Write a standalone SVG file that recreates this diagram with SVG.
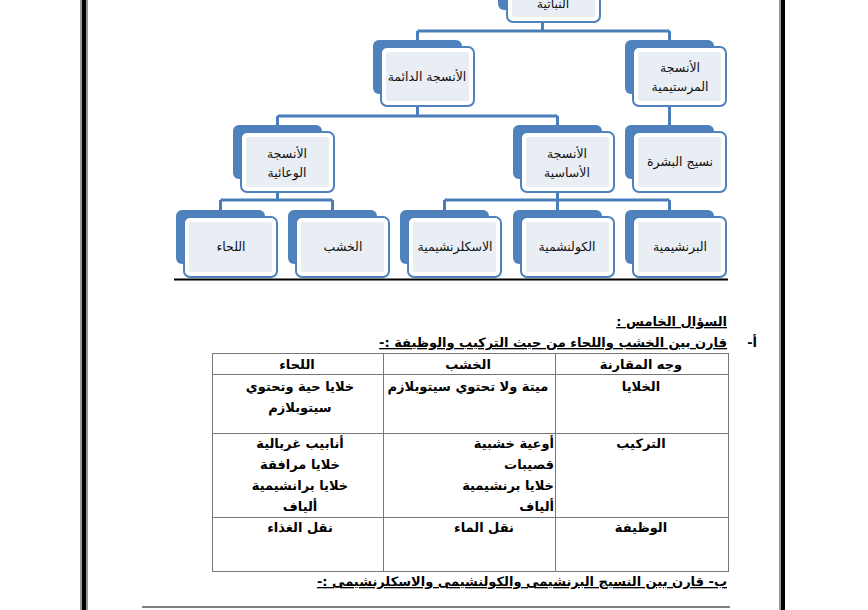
<svg xmlns="http://www.w3.org/2000/svg" width="868" height="610" viewBox="0 0 868 610">
<style>
.sh{fill:#4F81BD}
.fr{fill:#ffffff;stroke:#4F81BD;stroke-width:2}
.in{fill:#E9EEF5}
.bt{font-family:"DejaVu Sans",sans-serif;font-size:12.5px;fill:#111;text-anchor:middle}
.cn{fill:none;stroke:#4A7EBB;stroke-width:3}
.tb{font-family:"DejaVu Sans",sans-serif;font-size:13px;font-weight:bold;fill:#000}
.c{text-anchor:middle}
.r{direction:rtl;text-anchor:start}
.gl{stroke:#777;stroke-width:1;fill:none}
</style>
<rect width="868" height="610" fill="#ffffff"/>
<rect x="80" y="0" width="8" height="610" fill="#999"/>
<rect x="82" y="0" width="4" height="610" fill="#000"/>
<rect x="779" y="0" width="2" height="610" fill="#999"/>
<rect x="781" y="0" width="4" height="610" fill="#000"/>

<g id="connectors">
<path class="cn" d="M542.5 22V31M417.5 31H669.5M417.5 31V40M669.5 31V40"/>
<path class="cn" d="M417.5 106V116M277.5 116H557.5M277.5 116V125M557.5 116V125"/>
<path class="cn" d="M669.5 106V125"/>
<path class="cn" d="M277.5 192V200M220.5 200H332.5M220.5 200V210M332.5 200V210"/>
<path class="cn" d="M557.5 192V200M444.5 200H669.5M444.5 200V210M669.5 200V210M557.5 200V210"/>
</g>

<g id="n-top">
<rect class="sh" x="498" y="-44" width="89" height="54" rx="6"/>
<rect class="fr" x="507" y="-37" width="93" height="59" rx="6"/>
<rect class="in" x="512" y="-32" width="83" height="49" rx="2"/>
<text class="bt" x="553" y="8">النباتية</text>
</g>
<g id="n-permanent">
<rect class="sh" x="373" y="40" width="89" height="54" rx="6"/>
<rect class="fr" x="381" y="47" width="93" height="59" rx="6"/>
<rect class="in" x="386" y="52" width="83" height="49" rx="2"/>
<text class="bt" x="427" y="81">الأنسجة الدائمة</text>
</g>
<g id="n-meristem">
<rect class="sh" x="625" y="40" width="89" height="54" rx="6"/>
<rect class="fr" x="633" y="47" width="93" height="59" rx="6"/>
<rect class="in" x="638" y="52" width="83" height="49" rx="2"/>
<text class="bt" x="680" y="72">الأنسجة</text>
<text class="bt" x="680" y="91">المرستيمية</text>
</g>
<g id="n-vascular">
<rect class="sh" x="233" y="125" width="89" height="54" rx="6"/>
<rect class="fr" x="241" y="132" width="93" height="60" rx="6"/>
<rect class="in" x="246" y="137" width="83" height="50" rx="2"/>
<text class="bt" x="287" y="158">الأنسجة</text>
<text class="bt" x="287" y="177">الوعائية</text>
</g>
<g id="n-ground">
<rect class="sh" x="513" y="125" width="89" height="54" rx="6"/>
<rect class="fr" x="521" y="132" width="93" height="60" rx="6"/>
<rect class="in" x="526" y="137" width="83" height="50" rx="2"/>
<text class="bt" x="567" y="158">الأنسجة</text>
<text class="bt" x="567" y="177">الأساسية</text>
</g>
<g id="n-epidermis">
<rect class="sh" x="625" y="125" width="89" height="54" rx="6"/>
<rect class="fr" x="633" y="132" width="93" height="60" rx="6"/>
<rect class="in" x="638" y="137" width="83" height="50" rx="2"/>
<text class="bt" x="680" y="166">نسيج البشرة</text>
</g>
<g id="n-phloem">
<rect class="sh" x="176" y="210" width="89" height="54" rx="6"/>
<rect class="fr" x="184" y="217" width="93" height="60" rx="6"/>
<rect class="in" x="189" y="222" width="83" height="50" rx="2"/>
<text class="bt" x="231" y="251">اللحاء</text>
</g>
<g id="n-xylem">
<rect class="sh" x="288" y="210" width="89" height="54" rx="6"/>
<rect class="fr" x="296" y="217" width="93" height="60" rx="6"/>
<rect class="in" x="301" y="222" width="83" height="50" rx="2"/>
<text class="bt" x="343" y="251">الخشب</text>
</g>
<g id="n-sclerenchyma">
<rect class="sh" x="400" y="210" width="89" height="54" rx="6"/>
<rect class="fr" x="408" y="217" width="93" height="60" rx="6"/>
<rect class="in" x="413" y="222" width="83" height="50" rx="2"/>
<text class="bt" x="455" y="251">الاسكلرنشيمية</text>
</g>
<g id="n-collenchyma">
<rect class="sh" x="513" y="210" width="89" height="54" rx="6"/>
<rect class="fr" x="521" y="217" width="93" height="60" rx="6"/>
<rect class="in" x="526" y="222" width="83" height="50" rx="2"/>
<text class="bt" x="567" y="251">الكولنشمية</text>
</g>
<g id="n-parenchyma">
<rect class="sh" x="625" y="210" width="89" height="54" rx="6"/>
<rect class="fr" x="633" y="217" width="93" height="60" rx="6"/>
<rect class="in" x="638" y="222" width="83" height="50" rx="2"/>
<text class="bt" x="680" y="251">البرنشيمية</text>
</g>
<line x1="174" y1="279.5" x2="728" y2="279.5" stroke="#000" stroke-width="2"/>

<text class="tb r" x="727" y="326" text-decoration="underline">السؤال الخامس :</text>
<text class="tb r" x="757" y="347">أ-</text>
<text class="tb r" x="727" y="347" text-decoration="underline">قارن بين الخشب واللحاء من حيث التركيب والوظيفة :-</text>

<g id="table">
<rect class="gl" x="212.5" y="353.5" width="516" height="218"/>
<path class="gl" d="M212.5 374.5H728.5M212.5 433.5H728.5M212.5 517.5H728.5M383.5 353.5V571.5M555.5 353.5V571.5"/>
<text class="tb c" x="641" y="369">وجه المقارنة</text>
<text class="tb c" x="468" y="369">الخشب</text>
<text class="tb c" x="297" y="369">اللحاء</text>
<text class="tb c" x="641" y="391">الخلايا</text>
<text class="tb c" x="468" y="391">ميتة ولا تحتوي سيتوبلازم</text>
<text class="tb c" x="300" y="391">خلايا حية وتحتوي</text>
<text class="tb c" x="300" y="412">سيتوبلازم</text>
<text class="tb c" x="641" y="448">التركيب</text>
<text class="tb r" x="554" y="448">أوعية خشبية</text>
<text class="tb r" x="554" y="469">قصيبات</text>
<text class="tb r" x="554" y="490">خلايا برنشيمية</text>
<text class="tb r" x="554" y="511">ألياف</text>
<text class="tb c" x="300" y="448">أنابيب غربالية</text>
<text class="tb c" x="300" y="469">خلايا مرافقة</text>
<text class="tb c" x="300" y="490">خلايا برانشيمية</text>
<text class="tb c" x="300" y="511">ألياف</text>
<text class="tb c" x="641" y="532">الوظيفة</text>
<text class="tb c" x="484" y="532">نقل الماء</text>
<text class="tb c" x="300" y="532">نقل الغذاء</text>
</g>
<text class="tb r" x="727" y="586" text-decoration="underline">ب- قارن بين النسيج البرنشيمى والكولنشيمى والاسكلرنشيمى :-</text>
<line x1="142" y1="607" x2="730" y2="607" stroke="#555" stroke-width="1.5"/>
</svg>
